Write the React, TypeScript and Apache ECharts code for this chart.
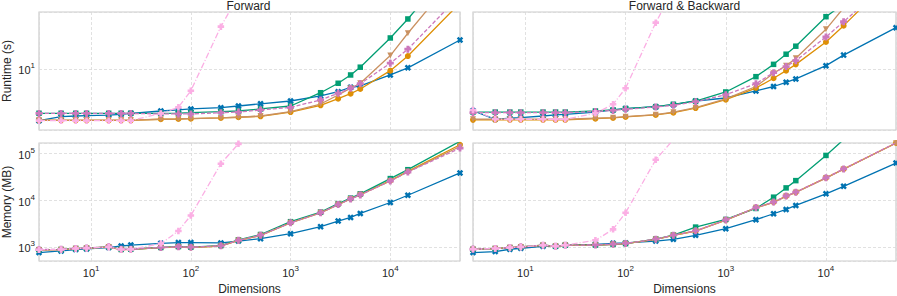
import React, { useEffect, useRef } from "react";
import * as echarts from "echarts";

const dims = [3, 5, 7, 9, 15, 20, 25, 50, 75, 100, 200, 300, 500, 1000, 2000, 3000, 4000, 5000, 10000, 15000, 50000];

// Forward runtime (s)
const fwdTimeBlue = [2.23, 2.5, 2.55, 2.58, 2.62, 2.68, 2.76, 2.95, 3.04, 3.13, 3.25, 3.41, 3.63, 3.94, 4.56, 5.16, 5.87, 6.09, 8.38, 10.3, 23.1];
const fwdTimeOrange = [2.25, 2.25, 2.25, 2.25, 2.25, 2.25, 2.25, 2.32, 2.34, 2.36, 2.41, 2.46, 2.53, 2.86, 3.48, 4.22, 4.87, 5.58, 9.49, 14.5, 67.6];
const fwdTimeGreen = [2.76, 2.76, 2.76, 2.76, 2.76, 2.76, 2.76, 2.76, 2.78, 2.81, 2.89, 2.95, 3.13, 3.41, 5.01, 6.59, 8.38, 10.5, 24.5, 42.5, 250];
const fwdTimeTan = [2.27, 2.27, 2.27, 2.27, 2.27, 2.27, 2.27, 2.32, 2.34, 2.36, 2.41, 2.46, 2.55, 2.89, 3.61, 4.69, 5.7, 6.59, 14.7, 28.1, 173];
const fwdTimePink = [2.75, 2.75, 2.75, 2.75, 2.75, 2.75, 2.75, 2.71, 2.71, 2.71, 2.81, 2.86, 3.04, 3.28, 4.06, 4.93, 5.7, 6.5, 11.8, 17.7, 84];
const fwdTimeLight = [2.23, 2.23, 2.23, 2.23, 2.23, 2.23, 2.23, 2.75, 3.28, 5.31, 34.0, 83.6, null, null, null, null, null, null, null, null, null];

// Forward & Backward runtime (s)
const fbTimeBlue = [2.98, 2.32, 2.39, 2.43, 2.55, 2.63, 2.68, 2.86, 3.04, 3.16, 3.34, 3.54, 3.94, 4.3, 5.27, 6.0, 6.78, 7.47, 10.97, 14.9, 33.0];
const fbTimeOrange = [2.28, 2.28, 2.28, 2.28, 2.28, 2.28, 2.28, 2.36, 2.41, 2.48, 2.63, 2.81, 3.21, 4.09, 5.74, 7.62, 9.49, 11.4, 21.8, 35.0, 157];
const fbTimeGreen = [2.86, 2.86, 2.86, 2.86, 2.86, 2.86, 2.86, 2.95, 3.04, 3.16, 3.34, 3.58, 3.94, 5.12, 7.98, 11.4, 15.3, 19.3, 45.4, 65.6, 314];
const fbTimeTan = [2.32, 2.32, 2.32, 2.32, 2.32, 2.32, 2.32, 2.39, 2.43, 2.5, 2.65, 2.85, 3.25, 4.18, 6.0, 8.81, 10.97, 13.6, 31.5, 58.5, 353];
const fbTimePink = [2.81, 2.81, 2.81, 2.81, 2.81, 2.81, 2.81, 2.91, 3.0, 3.1, 3.31, 3.48, 3.86, 4.73, 6.51, 8.96, 10.7, 12.7, 25.2, 39.3, 148];
const fbTimeLight = [3.04, 2.32, 2.32, 2.32, 2.32, 2.32, 2.32, 2.76, 3.58, 5.7, 38.2, 98.6, null, null, null, null, null, null, null, null, null];

// Forward memory (MB)
const fwdMemBlue = [759, 822, 880, 906, 971, 1050, 1100, 1200, 1240, 1240, 1220, 1340, 1510, 1930, 2730, 3590, 4300, 5240, 8990, 12880, 38700];
const fwdMemOrange = [870, 880, 925, 940, 1000, 880, 890, 970, 1000, 980, 1050, 1390, 1780, 3320, 5420, 8150, 10800, 13300, 26500, 41900, 156000];
const fwdMemGreen = [875, 885, 928, 945, 1005, 885, 893, 975, 1020, 990, 1070, 1420, 1850, 3490, 5600, 8500, 11200, 13800, 29300, 45500, 185000];
const fwdMemTan = [860, 875, 920, 935, 995, 875, 885, 965, 995, 975, 1040, 1380, 1760, 3300, 5400, 8100, 10700, 13200, 26000, 41000, 143000];
const fwdMemPink = [880, 890, 930, 950, 1010, 890, 895, 980, 1010, 990, 1060, 1390, 1790, 3300, 5400, 8100, 10700, 13100, 26000, 40500, 132000];
const fwdMemLight = [870, 880, 925, 940, 1000, 880, 890, 1180, 2200, 4750, 61200, 163000, null, null, null, null, null, null, null, null, null];

// Forward & Backward memory (MB)
const fbMemBlue = [759, 797, 893, 938, 1035, 1035, 1100, 1140, 1200, 1220, 1340, 1460, 1780, 2470, 3840, 5160, 6380, 7770, 13800, 20000, 63200];
const fbMemOrange = [893, 925, 970, 1000, 1090, 1035, 1090, 1100, 1140, 1180, 1460, 1780, 2200, 3770, 6940, 9100, 12300, 14900, 30300, 46900, 170000];
const fbMemGreen = [893, 925, 970, 1000, 1090, 1035, 1090, 1100, 1140, 1180, 1480, 1800, 2670, 3900, 6700, 11700, 18500, 26500, 92000, 201000, 2000000];
const fbMemTan = [885, 920, 965, 995, 1085, 1030, 1085, 1095, 1135, 1175, 1450, 1770, 2180, 3750, 6900, 9000, 12200, 14800, 30000, 46500, 168000];
const fbMemPink = [900, 930, 975, 1005, 1095, 1040, 1095, 1105, 1150, 1190, 1470, 1790, 2220, 3800, 7000, 9200, 12400, 15000, 30500, 47200, 172000];
const fbMemLight = [893, 925, 970, 1000, 1090, 1035, 1090, 1390, 2390, 5420, 74500, 200000, null, null, null, null, null, null, null, null, null];

const panelTitles = ["Forward", "Forward & Backward"];
const runtimeLabel = "Runtime (s)";
const memoryLabel = "Memory (MB)";
const xLabel = "Dimensions";

const FONT = "'Liberation Sans', Arial, Helvetica, sans-serif";
const TXT = "#262626";

const X_PATH = "path://M0,1.6 L1.6,0 L3,1.4 L4.4,0 L6,1.6 L4.6,3 L6,4.4 L4.4,6 L3,4.6 L1.6,6 L0,4.4 L1.4,3 Z";
const PLUS_PATH = "path://M1.8,0 L4.2,0 L4.2,1.8 L6,1.8 L6,4.2 L4.2,4.2 L4.2,6 L1.8,6 L1.8,4.2 L0,4.2 L0,1.8 L1.8,1.8 Z";

const styles = [
  { color: "#0173b2", symbol: X_PATH, size: 6.5, rotate: 0, dash: "solid" as any },
  { color: "#de8f05", symbol: "circle", size: 6, rotate: 0, dash: "solid" as any },
  { color: "#029e73", symbol: "rect", size: 5.5, rotate: 0, dash: "solid" as any },
  { color: "#ca9161", symbol: "triangle", size: 6, rotate: 180, dash: "solid" as any },
  { color: "#cc78bc", symbol: PLUS_PATH, size: 7, rotate: 0, dash: [4, 2] as any },
  { color: "#fbafe4", symbol: PLUS_PATH, size: 6.5, rotate: 0, dash: [6, 2, 1, 2] as any },
];

const panels = [
  [fwdTimeBlue, fwdTimeOrange, fwdTimeGreen, fwdTimeTan, fwdTimePink, fwdTimeLight],
  [fbTimeBlue, fbTimeOrange, fbTimeGreen, fbTimeTan, fbTimePink, fbTimeLight],
  [fwdMemBlue, fwdMemOrange, fwdMemGreen, fwdMemTan, fwdMemPink, fwdMemLight],
  [fbMemBlue, fbMemOrange, fbMemGreen, fbMemTan, fbMemPink, fbMemLight],
];

function powLabel(v: number) {
  const l = Math.log10(v);
  const e = Math.round(l);
  if (Math.abs(l - e) > 1e-6) return "";
  return `{b|10}{s|${e}}`;
}

const rich = {
  b: { fontSize: 11, fontFamily: FONT, color: TXT, lineHeight: 14, verticalAlign: "bottom" },
  s: { fontSize: 8, fontFamily: FONT, color: TXT, lineHeight: 14, verticalAlign: "top" },
};

export default function App() {
  const ref = useRef<HTMLDivElement>(null);
  useEffect(() => {
    if (!ref.current) return;
    const chart = echarts.init(ref.current, null, { renderer: "svg" });
    const gridPos = [
      { left: 37, top: 12, width: 423, height: 118 },
      { left: 473, top: 12, width: 423, height: 118 },
      { left: 37, top: 143, width: 423, height: 119 },
      { left: 473, top: 143, width: 423, height: 119 },
    ];
    const grids = gridPos.map((g) => ({
      ...g,
      show: true,
      borderColor: "#cccccc",
      borderWidth: 1.2,
      backgroundColor: "transparent",
      containLabel: false,
    }));
    const splitLine = { show: true, lineStyle: { color: "#d9d9d9", type: [3, 2] as any, width: 0.8 } };
    const xAxes = gridPos.map((_, i) => ({
      type: "log",
      logBase: 10,
      gridIndex: i,
      min: 3,
      max: 50000,
      axisLine: { show: false },
      axisTick: { show: false },
      splitLine,
      axisLabel: {
        show: i >= 2,
        margin: 3,
        formatter: powLabel,
        rich,
        showMinLabel: false,
        showMaxLabel: false,
      },
      name: i >= 2 ? xLabel : "",
      nameLocation: "middle",
      nameGap: 22,
      nameTextStyle: { fontSize: 12, fontFamily: FONT, color: TXT },
    }));
    const yAxes = gridPos.map((_, i) => ({
      type: "log",
      logBase: 10,
      gridIndex: i,
      min: i < 2 ? 1.7 : 500,
      max: i < 2 ? 52 : 170000,
      axisLine: { show: false },
      axisTick: { show: false },
      splitLine,
      axisLabel: {
        show: i % 2 === 0,
        margin: 4,
        formatter: powLabel,
        rich,
        showMinLabel: false,
        showMaxLabel: false,
      },
      name: i % 2 === 0 ? (i < 2 ? runtimeLabel : memoryLabel) : "",
      nameLocation: "middle",
      nameGap: 26,
      nameTextStyle: { fontSize: 12, fontFamily: FONT, color: TXT },
    }));
    const series: any[] = [];
    panels.forEach((vals, gi) => {
      vals.forEach((arr, si) => {
        const st = styles[si];
        series.push({
          type: "line",
          xAxisIndex: gi,
          yAxisIndex: gi,
          data: dims.map((d, k) => [d, arr[k]]),
          symbol: st.symbol,
          symbolSize: st.size,
          symbolRotate: st.rotate,
          showSymbol: true,
          connectNulls: false,
          clip: true,
          lineStyle: { color: st.color, width: 1.3, type: st.dash },
          itemStyle: { color: st.color, borderWidth: 0 },
          z: 2 + si,
        });
      });
    });
    chart.setOption({
      animation: false,
      grid: grids,
      xAxis: xAxes,
      yAxis: yAxes,
      series,
      graphic: [
        {
          type: "text",
          x: 248.5,
          y: 0,
          style: { text: panelTitles[0], fontSize: 12, fontFamily: FONT, fill: TXT, align: "center", verticalAlign: "top" },
        },
        {
          type: "text",
          x: 684.5,
          y: 0,
          style: { text: panelTitles[1], fontSize: 12, fontFamily: FONT, fill: TXT, align: "center", verticalAlign: "top" },
        },
      ],
    });
    return () => chart.dispose();
  }, []);
  return <div ref={ref} style={{ position: "fixed", left: 0, top: 0, width: 897, height: 296, background: "#fff" }} />;
}
